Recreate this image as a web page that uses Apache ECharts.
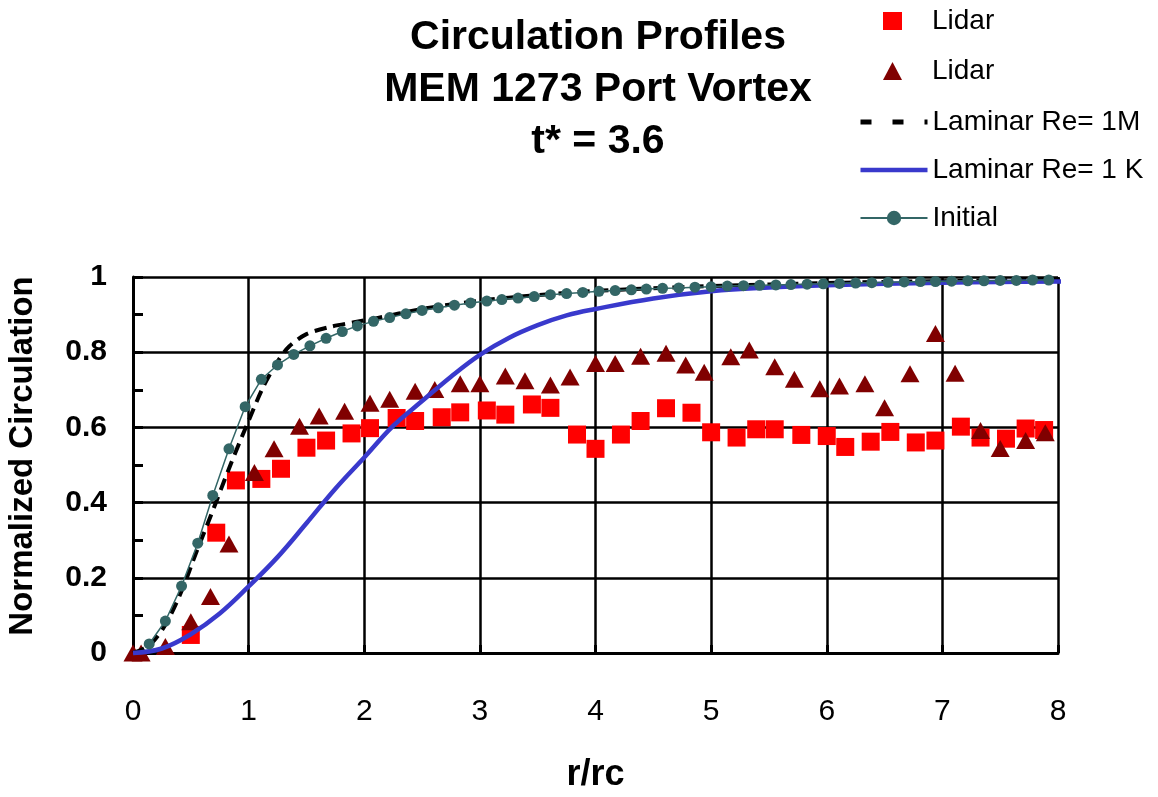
<!DOCTYPE html>
<html><head><meta charset="utf-8">
<script src="https://cdn.jsdelivr.net/npm/echarts@6/dist/echarts.min.js"></script>
<style>html,body{margin:0;padding:0;background:#fff}#c{width:1158px;height:797px}</style>
</head><body><div id="c"></div>
<script>
// ---- data ----
const lidarSqX = [0.50,0.72,0.89,1.11,1.28,1.50,1.67,1.89,2.05,2.28,2.44,2.67,2.83,3.06,3.22,3.45,3.61,3.84,4.00,4.22,4.39,4.61,4.83,5.00,5.22,5.39,5.55,5.78,6.00,6.16,6.38,6.55,6.77,6.94,7.16,7.33,7.55,7.72,7.88];
const lidarSqY = [0.048,0.32,0.459,0.463,0.49,0.546,0.565,0.584,0.598,0.625,0.617,0.627,0.64,0.645,0.634,0.661,0.652,0.581,0.543,0.581,0.617,0.651,0.639,0.587,0.573,0.595,0.595,0.58,0.577,0.548,0.562,0.588,0.56,0.565,0.602,0.573,0.57,0.597,0.593];

const lidarTriX = [0.00,0.07,0.28,0.50,0.67,0.83,1.05,1.22,1.44,1.61,1.83,2.05,2.22,2.44,2.61,2.83,3.00,3.22,3.39,3.61,3.78,4.00,4.17,4.39,4.61,4.78,4.94,5.17,5.33,5.55,5.72,5.94,6.11,6.33,6.50,6.72,6.94,7.11,7.33,7.50,7.72,7.89];
const lidarTriY = [0.0,0.0,0.017,0.083,0.15,0.29,0.48,0.543,0.603,0.63,0.643,0.664,0.675,0.696,0.701,0.716,0.716,0.737,0.724,0.713,0.734,0.77,0.77,0.789,0.797,0.766,0.747,0.788,0.806,0.761,0.728,0.703,0.71,0.716,0.652,0.743,0.85,0.744,0.592,0.544,0.565,0.586];

const lam1MX = [0,0.14,0.28,0.42,0.55,0.67,0.85,0.98,1.13,1.25,1.35,1.5,1.7,1.9,2.1,2.5,3,3.5,4,4.5,5,5.5,6,6.5,7,7.5,8.07];
const lam1MY = [0,0.02,0.075,0.165,0.27,0.363,0.506,0.603,0.71,0.775,0.815,0.848,0.867,0.879,0.89,0.915,0.937,0.952,0.963,0.970,0.976,0.980,0.984,0.987,0.989,0.991,0.993];

const lam1KX = [0,0.25,0.5,0.75,1.0,1.25,1.5,1.75,2.0,2.25,2.5,2.75,3.0,3.25,3.5,3.75,4.0,4.5,5.0,5.5,6.0,6.5,7.0,7.5,8.07];
const lam1KY = [0,0.012,0.05,0.105,0.177,0.255,0.345,0.437,0.52,0.604,0.67,0.735,0.793,0.838,0.872,0.898,0.915,0.943,0.962,0.972,0.978,0.982,0.985,0.987,0.988];

const initX = [0.14,0.28,0.42,0.56,0.69,0.83,0.97,1.11,1.25,1.39,1.53,1.67,1.81,1.94,2.08,2.22,2.36,2.50,2.64,2.78,2.92,3.06,3.19,3.33,3.47,3.61,3.75,3.89,4.03,4.17,4.31,4.44,4.58,4.72,4.86,5.00,5.14,5.28,5.42,5.56,5.69,5.83,5.97,6.11,6.25,6.39,6.53,6.67,6.81,6.94,7.08,7.22,7.36,7.50,7.64,7.78,7.92];
const initY = [0.024,0.085,0.178,0.292,0.419,0.543,0.655,0.728,0.766,0.794,0.817,0.837,0.855,0.870,0.882,0.892,0.902,0.911,0.918,0.925,0.931,0.936,0.940,0.944,0.948,0.953,0.956,0.959,0.962,0.964,0.966,0.968,0.970,0.971,0.973,0.974,0.976,0.977,0.978,0.979,0.980,0.981,0.982,0.983,0.984,0.985,0.986,0.987,0.988,0.988,0.989,0.990,0.990,0.991,0.991,0.992,0.992];

const xTicks = [0,1,2,3,4,5,6,7,8];
const yTicks = [0,0.2,0.4,0.6,0.8,1];

const zip = (xs, ys) => xs.map((x, i) => [x, ys[i]]);
const FONT = 'Liberation Sans, Arial, sans-serif';
const HIDE_SYM = { color: 'rgba(0,0,0,0)', borderWidth: 0, opacity: 0 };

const chart = echarts.init(document.getElementById('c'));
chart.setOption({
  animation: false,
  backgroundColor: '#fff',
  title: {
    text: 'Circulation Profiles\nMEM 1273 Port Vortex\nt* = 3.6',
    left: 593, top: 7, textAlign: 'center',
    textStyle: { fontFamily: FONT, fontSize: 41, fontWeight: 'bold', color: '#000', lineHeight: 52 }
  },
  legend: [
    {
      orient: 'vertical', left: 883, top: 6, padding: 0,
      itemWidth: 19, itemHeight: 18, itemGap: 20,
      textStyle: { fontFamily: FONT, fontSize: 28, color: '#000', lineHeight: 30, padding: [0, 0, 0, 25] },
      data: ['Lidar', 'Lidar ']
    },
    {
      orient: 'vertical', left: 858, top: 107, padding: 0,
      itemWidth: 67, itemHeight: 18, itemGap: 18,
      textStyle: { fontFamily: FONT, fontSize: 28, color: '#000', lineHeight: 30 },
      data: [
        { name: 'Laminar Re= 1M', itemStyle: HIDE_SYM, lineStyle: { color: '#000', width: 5, type: [11, 21] } },
        { name: 'Laminar Re= 1 K', itemStyle: HIDE_SYM, lineStyle: { color: '#3939cc', width: 4.5 } },
        { name: 'Initial', lineStyle: { color: '#336666', width: 2 } }
      ]
    }
  ],
  grid: { left: 133, right: 100, top: 277, bottom: 144, outerBoundsMode: 'none', containLabel: false },
  xAxis: {
    type: 'value', min: xTicks[0], max: xTicks[xTicks.length - 1], interval: 1,
    name: 'r/rc', nameLocation: 'middle', nameGap: 104,
    nameTextStyle: { fontFamily: FONT, fontSize: 36, fontWeight: 'bold', color: '#000' },
    axisLine: { lineStyle: { color: '#000', width: 3 } },
    axisTick: { show: true, inside: true, length: 8, lineStyle: { color: '#000', width: 3 } },
    axisLabel: { fontFamily: FONT, fontSize: 30, color: '#000', margin: 44 },
    splitLine: { show: true, lineStyle: { color: '#000', width: 2.5 } }
  },
  yAxis: {
    type: 'value', min: yTicks[0], max: yTicks[yTicks.length - 1], interval: 0.2,
    name: 'Normalized Circulation', nameLocation: 'middle', nameGap: 94, nameRotate: 90,
    nameTextStyle: { fontFamily: FONT, fontSize: 33, fontWeight: 'bold', color: '#000', padding: [0, 0, 0, 18] },
    axisLine: { show: true, lineStyle: { color: '#000', width: 3 } },
    axisTick: { show: true, inside: true, length: 10, lineStyle: { color: '#000', width: 3 } },
    minorTick: { show: true, splitNumber: 2, length: 10, lineStyle: { color: '#000', width: 3 } },
    axisLabel: { fontFamily: FONT, fontSize: 30, fontWeight: 'bold', color: '#000', margin: 26 },
    splitLine: { show: true, lineStyle: { color: '#000', width: 2.5 } }
  },
  series: [
    {
      name: 'Laminar Re= 1M', type: 'line', data: zip(lam1MX, lam1MY),
      symbol: 'none', smooth: 0.3, clip: false,
      lineStyle: { color: '#000', width: 4, type: [12, 7] },
      itemStyle: { color: '#000' }
    },
    {
      name: 'Laminar Re= 1 K', type: 'line', data: zip(lam1KX, lam1KY),
      symbol: 'none', smooth: 0.4, clip: false,
      lineStyle: { color: '#3939cc', width: 4.5 },
      itemStyle: { color: '#3939cc' }
    },
    {
      name: 'Initial', type: 'line', data: zip(initX, initY),
      symbol: 'circle', symbolSize: 11, showSymbol: true,
      lineStyle: { color: '#336666', width: 1.5 },
      itemStyle: { color: '#336666', opacity: 1 }
    },
    {
      name: 'Lidar', type: 'scatter', data: zip(lidarSqX, lidarSqY),
      symbol: 'rect', symbolSize: 18,
      itemStyle: { color: '#ff0000', opacity: 1 }
    },
    {
      name: 'Lidar ', type: 'scatter', data: zip(lidarTriX, lidarTriY),
      symbol: 'triangle', symbolSize: [19, 17],
      itemStyle: { color: '#800000', opacity: 1 }
    }
  ]
});
</script>
</body></html>
